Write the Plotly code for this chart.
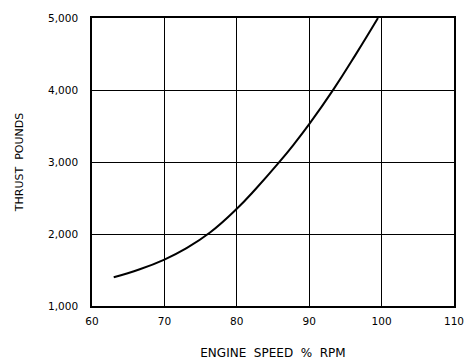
import plotly.graph_objects as go

engine_speed = [63, 66.6, 70, 73, 76.3, 80, 82.7, 85.8, 87.8, 90, 93.4, 96.5, 99.5]
thrust = [1400, 1510, 1645, 1800, 2020, 2350, 2635, 2990, 3235, 3525, 4015, 4505, 5000]

x_ticks = [60, 70, 80, 90, 100, 110]
y_ticks = [1000, 2000, 3000, 4000, 5000]
y_tick_labels = ["1,000", "2,000", "3,000", "4,000", "5,000"]

fig = go.Figure()
fig.add_trace(go.Scatter(
    x=engine_speed, y=thrust, mode="lines",
    line=dict(color="black", width=2, shape="spline", smoothing=1.3),
    showlegend=False, hoverinfo="skip",
))

fam = "DejaVu Sans"
fig.update_layout(
    width=465, height=363,
    margin=dict(l=92, r=11, t=18, b=57),
    paper_bgcolor="white", plot_bgcolor="white",
    font=dict(family=fam, size=10, color="black"),
)
fig.update_xaxes(
    range=[60, 110], tickvals=x_ticks, ticktext=[str(v) for v in x_ticks],
    showgrid=True, gridcolor="black", gridwidth=1,
    showline=True, linecolor="black", linewidth=1.5, mirror=True,
    zeroline=False, ticks="", ticklabelstandoff=5, automargin=False,
    title=dict(text="ENGINE\u00a0\u00a0SPEED\u00a0\u00a0%\u00a0\u00a0RPM",
               font=dict(family=fam, size=12), standoff=22),
    tickfont=dict(family=fam, size=10.5),
)
fig.update_yaxes(
    range=[1000, 5000], tickvals=y_ticks, ticktext=y_tick_labels,
    showgrid=True, gridcolor="black", gridwidth=1,
    showline=True, linecolor="black", linewidth=1.5, mirror=True,
    zeroline=False, ticks="", ticklabelstandoff=10, automargin=False,
    title=dict(text="THRUST\u00a0\u00a0POUNDS", font=dict(family=fam, size=11), standoff=22),
    tickfont=dict(family=fam, size=10.5),
)

fig.write_html("out.html")
